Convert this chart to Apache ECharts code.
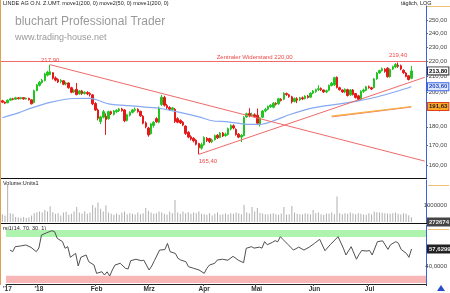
<!DOCTYPE html>
<html>
<head>
<meta charset="utf-8">
<script src="https://cdn.jsdelivr.net/npm/echarts@6/dist/echarts.min.js"></script>
<style>
html, body { margin: 0; padding: 0; background: #fff; }
#chart { width: 450px; height: 293px; }
</style>
</head>
<body>
<div id="chart"></div>
<script>
// trading days (Xetra), last 5 categories stay empty
var holidays = ['2017-12-25', '2017-12-26', '2018-01-01', '2018-03-30', '2018-04-02', '2018-05-01'];
var dates = [];
var d = new Date(Date.UTC(2017, 11, 12));
while (dates.length < 160) {
    var s = d.toISOString().slice(0, 10);
    if (d.getUTCDay() !== 0 && d.getUTCDay() !== 6 && holidays.indexOf(s) < 0) dates.push(s);
    d.setUTCDate(d.getUTCDate() + 1);
}
var monthNames = ['Jan', 'Feb', 'Mrz', 'Apr', 'Mai', 'Jun', 'Jul', 'Aug', 'Sep', 'Okt', 'Nov', 'Dez'];

// [open, close, low, high]
var ohlc = [
    [195.0,194.2,193.6,195.6],[194.2,193.6,193.0,194.6],[193.8,195.4,193.6,195.8],[195.4,196.2,195.0,196.8],
    [196.2,195.9,195.3,196.8],[195.9,196.8,195.6,197.4],[196.8,196.3,195.8,197.2],[196.3,196.9,195.9,197.4],
    [196.9,196.1,195.7,197.2],[196.1,196.5,195.8,197.0],[196.5,195.6,195.2,196.8],[195.6,193.2,192.8,195.8],
    [194.0,201.2,193.5,201.8],[201.2,204.8,200.8,205.4],[204.5,206.5,203.8,207.2],[206.3,207.8,205.5,208.6],
    [207.6,211.8,207.0,212.6],[211.0,213.0,210.3,213.8],[211.5,213.2,211.0,217.9],[212.6,209.0,208.2,213.0],
    [209.2,207.8,207.0,210.2],[208.2,206.6,206.0,209.0],[206.8,207.6,205.8,208.4],[207.4,205.2,204.6,207.9],
    [205.4,206.0,204.5,206.8],[206.0,203.0,202.4,206.4],[203.0,200.2,199.6,203.6],[200.4,201.4,199.8,202.0],
    [202.0,198.8,198.3,206.0],[199.2,201.0,198.8,201.6],[201.0,199.4,198.6,201.6],[199.4,200.2,198.8,200.8],
    [200.0,199.2,198.4,200.8],[199.4,198.8,197.6,200.2],[198.6,193.2,192.4,199.0],[193.4,189.6,189.0,194.2],
    [189.6,184.8,183.6,190.4],[183.0,185.6,181.5,186.2],[185.4,188.6,184.8,189.6],[186.0,184.0,175.6,187.6],
    [184.6,188.6,184.0,189.2],[188.6,187.4,186.6,189.2],[187.0,189.0,186.4,189.6],[188.6,189.4,187.8,190.0],
    [189.2,190.2,188.4,190.8],[190.2,189.2,188.6,190.8],[189.6,183.4,182.6,190.0],[183.6,186.8,183.0,187.4],
    [186.6,188.2,185.8,188.8],[188.2,189.6,187.6,190.2],[189.4,190.0,188.6,191.0],[190.0,188.6,188.0,190.6],
    [188.8,186.2,185.6,189.2],[186.0,182.0,181.4,186.6],[182.2,180.0,179.2,183.0],[179.4,175.6,174.6,180.0],
    [176.2,181.6,175.8,182.2],[180.8,182.6,179.6,183.2],[184.6,182.8,182.2,185.4],[182.6,190.8,182.0,191.6],
    [192.8,197.2,192.0,198.6],[197.0,192.4,191.6,198.0],[192.2,191.0,190.2,193.2],[191.0,190.0,189.2,191.8],
    [189.8,190.8,189.0,191.4],[190.0,183.0,182.2,190.6],[184.6,182.6,182.0,185.4],[183.6,182.2,181.6,184.2],
    [182.6,181.0,180.4,183.2],[180.4,176.4,175.6,180.8],[177.0,174.4,173.8,177.6],[174.6,173.4,172.6,175.4],
    [173.8,172.4,171.6,174.4],[172.8,170.6,170.0,173.2],[171.0,168.8,165.4,171.4],[168.6,170.4,167.8,171.4],
    [170.4,174.2,169.8,174.8],[173.8,172.6,171.8,174.4],[173.6,172.0,171.2,174.0],[172.0,172.8,171.2,173.6],
    [173.0,175.2,172.6,175.8],[175.4,174.0,173.4,176.0],[174.2,176.6,173.8,177.2],[176.6,175.0,174.4,177.2],
    [175.2,176.0,174.6,176.8],[175.8,179.0,175.2,179.6],[178.8,180.8,178.0,181.4],[180.6,179.4,178.6,181.4],
    [178.6,175.8,175.2,179.2],[176.0,174.4,173.8,176.6],[174.4,175.4,171.8,176.0],[175.2,185.2,174.8,186.0],
    [185.6,187.4,185.0,188.0],[187.6,186.2,185.4,190.6],[186.4,186.8,185.6,188.0],[186.8,185.8,185.2,187.6],
    [186.6,182.0,181.4,190.4],[181.2,185.0,180.2,185.4],[185.4,189.0,185.0,189.6],[189.0,189.8,188.2,190.8],
    [190.0,191.6,189.4,192.2],[191.4,192.4,190.8,193.0],[191.2,193.6,190.6,194.2],[193.4,193.0,192.2,194.2],
    [193.2,196.2,192.6,196.8],[196.0,195.2,194.6,196.6],[196.0,199.6,195.4,200.2],[199.4,198.8,198.0,200.0],
    [198.6,197.6,196.8,199.2],[197.4,194.4,193.4,198.0],[194.6,196.4,194.0,197.0],[196.2,195.4,193.6,197.2],
    [195.6,196.8,194.8,197.4],[196.8,196.2,195.4,197.6],[196.4,197.8,195.8,198.4],[197.8,197.0,196.4,198.6],
    [197.2,199.6,196.8,200.2],[199.6,201.0,199.0,201.6],[200.6,201.8,199.8,202.4],[201.8,202.4,201.0,204.6],
    [202.6,201.8,201.0,203.2],[201.6,200.4,199.8,202.0],[200.4,201.2,199.6,201.8],[201.4,204.4,200.8,205.0],
    [204.4,205.8,203.8,206.6],[204.8,209.4,204.2,210.0],[209.6,203.2,202.6,210.2],[203.0,201.8,201.2,203.6],
    [201.6,200.4,199.8,202.0],[200.4,202.0,199.6,202.6],[201.8,198.2,197.6,202.4],[198.6,201.6,198.0,202.2],
    [201.6,198.8,198.2,202.2],[199.4,197.0,196.4,199.8],[198.0,195.8,195.0,198.6],[196.0,200.8,195.6,201.4],
    [200.8,201.6,199.8,202.4],[201.4,203.6,200.8,204.2],[203.6,203.0,202.4,204.4],[203.0,202.2,201.6,203.6],
    [203.0,208.6,202.6,209.2],[208.6,212.4,208.0,213.0],[212.4,214.0,211.8,214.6],[214.0,215.2,213.4,216.0],
    [214.8,213.4,212.6,215.6],[215.6,210.0,209.4,216.2],[210.0,214.8,209.4,215.4],[215.0,216.6,214.4,217.2],
    [216.4,218.0,215.6,219.0],[217.6,216.8,215.8,219.4],[217.2,215.0,214.2,218.0],[214.2,212.6,211.8,214.8],
    [212.4,210.2,209.6,213.0],[210.6,208.2,207.6,211.0],[209.0,213.8,208.4,217.0]
];

// moving averages, [day index, value]
var ma50 = [[0,185.1],[6,187.9],[11,190.8],[18,194.1],[27,196.4],[33,196.5],[40,193.2],[50,191.8],
    [59,190.6],[66,188.5],[74,185.6],[79,183.4],[85,182.8],[92,181.4],[97,181.4],[103,183.9],[108,186.8],
    [117,190.8],[127,193.2],[134,195.0],[141,197.3],[149,201.0],[154,203.6]];
var ma200a = [[124,186.0],[139,188.8],[154,191.63]];
var ma200b = [[124,185.6],[139,188.4],[154,191.3]];

// volume in thousands
var volumeK = [450,380,2200,520,480,300,260,250,300,240,280,380,
    520,580,620,560,700,620,920,580,480,520,380,560,
    600,420,480,620,880,560,500,620,480,560,1000,860,
    1150,780,620,980,560,480,420,500,420,560,620,460,
    520,480,440,560,460,520,820,640,560,480,520,620,
    560,480,440,600,520,1300,560,480,620,520,580,480,
    560,520,620,480,460,420,520,380,480,560,420,460,
    500,440,520,480,560,520,460,1020,560,500,880,620,
    820,540,500,460,440,480,520,460,420,500,880,440,
    460,940,560,480,460,440,520,480,460,700,520,560,
    460,420,500,480,560,460,1500,520,460,520,480,560,
    500,460,520,480,440,420,520,440,600,580,560,540,
    520,500,480,520,560,480,440,520,480,400,273];

var rsi = [[1,56.5],[2,54.8],[3,60],[5,60.7],[7,61.7],[9,59.3],[11,54.8],[12,58.6],[13,72],[15,74.4],
    [16,75.5],[17,76.5],[18,75.5],[19,68.6],[21,65.2],[22,58.3],[23,60],[24,49],[26,53.1],[27,40],
    [28,49],[30,51.4],[31,44.5],[33,41],[34,32.4],[36,34.1],[37,30.7],[38,34],[39,29.7],[40,35.9],
    [41,41],[43,42.8],[45,37.6],[46,37],[47,45.5],[49,47],[51,45.5],[52,46],[54,35.9],[55,40],
    [56,45.5],[58,56.5],[60,57],[61,63.4],[62,54.8],[64,53],[65,48],[66,46.2],[68,44.5],[69,39.3],
    [71,37.6],[73,35.9],[75,32.4],[76,37.6],[77,41],[79,42.8],[80,46.2],[82,47],[84,46],[86,50],
    [88,46],[90,43.4],[91,58.3],[93,60],[94,58.5],[96,59.5],[97,58.5],[98,65.2],[99,62],[101,64.5],
    [102,66.2],[103,65],[104,70.3],[105,67.5],[107,62],[109,56.5],[111,59.5],[113,56.5],[115,59.5],
    [117,63.4],[119,67.6],[121,55.8],[123,62],[126,70.3],[128,58.5],[129,51.4],[131,60],[133,47],
    [134,52],[135,56],[137,55.5],[138,56],[139,51.4],[141,65.2],[143,66],[145,57.2],[146,62],
    [148,65.2],[149,63.5],[150,57.2],[152,53.1],[153,49],[154,57.6]];

var priceTicks = [160, 170, 180, 190, 200, 210, 220, 230, 240, 250];

function fmt2(v) { return v.toFixed(2).replace('.', ','); }
function dateLabel(i) {
    var m = dates[i].slice(5, 7);
    if (i === 0) return "'" + dates[0].slice(2, 4);
    if (m === dates[i - 1].slice(5, 7)) return '';
    if (m === '01') return "'" + dates[i].slice(2, 4);
    return monthNames[+m - 1];
}

var FONT = 'Liberation Sans';
var RED = '#f06a6a';
var NOLINE = { color: 'rgba(0,0,0,0)', width: 0 };

var chart = echarts.init(document.getElementById('chart'));

function hiddenX(idx) {
    return {
        type: 'category', gridIndex: idx, data: dates,
        axisLine: { show: false }, axisTick: { show: false }, axisLabel: { show: false }, splitLine: { show: false }
    };
}
function boxLabel(text, bg, border, color) {
    return {
        show: true, position: 'end', distance: 2, formatter: text,
        fontFamily: FONT, fontSize: 6, fontWeight: 'bold', color: color,
        backgroundColor: bg, borderColor: border, borderWidth: 1, padding: [1, 1, 0, 1]
    };
}

chart.setOption({
    animation: false,
    backgroundColor: '#fff',
    grid: [
        { left: 1, width: 426, top: 6, height: 172 },
        { left: 1, width: 426, top: 180, height: 42 },
        { left: 1, width: 426, top: 225, height: 59 }
    ],
    xAxis: [
        hiddenX(0),
        hiddenX(1),
        {
            type: 'category', gridIndex: 2, data: dates,
            axisLine: { show: true, lineStyle: { color: '#222' } },
            axisTick: { show: true, length: 2, interval: function (i) { return dateLabel(i) !== ''; }, lineStyle: { color: '#444' } },
            axisLabel: {
                interval: function (i) { return dateLabel(i) !== ''; },
                formatter: function (v, i) { return dateLabel(i); },
                fontFamily: FONT, fontSize: 6.5, fontWeight: 'bold', color: '#333', margin: 2
            },
            splitLine: { show: false }
        }
    ],
    yAxis: [
        {
            type: 'log', gridIndex: 0, position: 'right', min: 153.8, max: 261,
            axisLine: { show: true, lineStyle: { color: '#3b63e0' } },
            axisTick: { show: true, length: 2, customValues: priceTicks, lineStyle: { color: '#666' } },
            axisLabel: { customValues: priceTicks, formatter: fmt2, fontFamily: FONT, fontSize: 6, color: '#444', align: 'right', margin: 21 },
            splitLine: { show: false }
        },
        {
            type: 'value', gridIndex: 1, position: 'right', min: 0, max: 2470,
            axisLine: { show: true, lineStyle: { color: '#3b63e0' } },
            axisTick: { show: true, length: 2, customValues: [0, 1000], lineStyle: { color: '#666' } },
            axisLabel: { customValues: [0, 1000], formatter: function (v) { return String(v * 1000); }, fontFamily: FONT, fontSize: 6, color: '#444', align: 'right', margin: 21 },
            splitLine: { show: false }
        },
        {
            type: 'value', gridIndex: 2, position: 'right', min: 21.4, max: 82.4,
            axisLine: { show: true, lineStyle: { color: '#3b63e0' } },
            axisTick: { show: true, length: 2, customValues: [40], lineStyle: { color: '#666' } },
            axisLabel: { customValues: [40], formatter: function (v) { return v.toFixed(4).replace('.', ','); }, fontFamily: FONT, fontSize: 6, color: '#444', align: 'right', margin: 21 },
            splitLine: { show: false }
        }
    ],
    series: [
        {
            type: 'candlestick', xAxisIndex: 0, yAxisIndex: 0, data: ohlc, barWidth: 2,
            itemStyle: { color: '#22c422', color0: '#e41a1a', borderColor: '#22c422', borderColor0: '#e41a1a', borderWidth: 1 },
            markLine: {
                symbol: 'none', silent: true,
                lineStyle: { color: RED, width: 1, type: 'solid' },
                label: { show: false },
                data: [
                    { yAxis: 220 },
                    [{ coord: [18, 217.9] }, { coord: [159, 162] }],
                    [{ coord: [74, 165.4] }, { coord: [159, 209.6] }],
                    { yAxis: 213.8, lineStyle: NOLINE, label: boxLabel('213,80', '#fff', '#333', '#000') }
                ]
            },
            markPoint: {
                symbol: 'circle', symbolSize: 1, silent: true,
                itemStyle: { color: 'rgba(0,0,0,0)' },
                label: { fontFamily: FONT, fontSize: 6, color: '#f04848' },
                data: [
                    { coord: [18, 217.9], label: { formatter: '217,90', position: 'top', distance: 1 } },
                    { coord: [149, 219.4], label: { formatter: '219,40', position: 'top', distance: 4 } },
                    { coord: [74, 165.4], label: { formatter: '165,40', position: 'bottom', distance: 3, offset: [9, 0] } },
                    { coord: [95, 220], label: { formatter: 'Zentraler Widerstand 220,00', position: 'top', distance: 1 } }
                ]
            }
        },
        {
            type: 'line', xAxisIndex: 0, yAxisIndex: 0, data: ma50, symbol: 'none', smooth: 0.3,
            lineStyle: { color: '#86a9f2', width: 1.2 },
            markLine: {
                symbol: 'none', silent: true, lineStyle: NOLINE,
                data: [{ yAxis: 203.6, label: boxLabel('203,60', '#dfe8ff', '#3b63e0', '#2448c0') }]
            }
        },
        {
            type: 'line', xAxisIndex: 0, yAxisIndex: 0, data: ma200b, symbol: 'none',
            lineStyle: { color: '#f08070', width: 1 }
        },
        {
            type: 'line', xAxisIndex: 0, yAxisIndex: 0, data: ma200a, symbol: 'none',
            lineStyle: { color: '#f7b040', width: 1.2 },
            markLine: {
                symbol: 'none', silent: true, lineStyle: NOLINE,
                data: [{ yAxis: 191.63, label: boxLabel('191,63', '#ffa628', '#e04020', '#222') }]
            }
        },
        {
            type: 'bar', xAxisIndex: 1, yAxisIndex: 1, data: volumeK, barWidth: 1,
            itemStyle: { color: '#b0b0b0' },
            markLine: {
                symbol: 'none', silent: true, lineStyle: NOLINE,
                data: [{ yAxis: 0, label: boxLabel('272674', '#444', '#444', '#eee') }]
            }
        },
        {
            type: 'line', xAxisIndex: 2, yAxisIndex: 2, data: rsi, symbol: 'none', z: 3,
            lineStyle: { color: '#505050', width: 1 },
            markArea: {
                silent: true,
                data: [
                    [{ yAxis: 70, itemStyle: { color: '#aef3ae' } }, { yAxis: 77.2 }],
                    [{ yAxis: 22.5, itemStyle: { color: '#f9b6b6' } }, { yAxis: 30 }]
                ]
            },
            markLine: {
                symbol: 'none', silent: true, lineStyle: NOLINE,
                data: [{ yAxis: 57.63, label: boxLabel('57,6299', '#222', '#222', '#eee') }]
            }
        }
    ],
    graphic: [
        { type: 'text', left: 3, top: 0, style: { text: 'LINDE AG O.N. Z.UMT. move1(200, 0) move2(50, 0) move1(200, 0)', font: '5.5px "Liberation Sans"', fill: '#222' } },
        { type: 'text', left: 401, top: 0, style: { text: 'täglich, LOG', font: '5.5px "Liberation Sans"', fill: '#222' } },
        { type: 'text', left: 15, top: 16, style: { text: 'bluchart Professional Trader', font: '12px "Liberation Sans"', fill: '#9a9a9a' } },
        { type: 'text', left: 15, top: 33, style: { text: 'www.trading-house.net', font: '9px "Liberation Sans"', fill: '#9a9a9a' } },
        { type: 'text', left: 3, top: 180, style: { text: 'Volume:Units1', font: '5.5px "Liberation Sans"', fill: '#222' } },
        { type: 'text', left: 3, top: 225, style: { text: 'rsi1(14, 70, 30, 1)', font: '5.5px "Liberation Sans"', fill: '#222' } },
        { type: 'line', shape: { x1: 0, y1: 178.5, x2: 427, y2: 178.5 }, style: { stroke: '#111', lineWidth: 1 } },
        { type: 'line', shape: { x1: 0, y1: 223.5, x2: 427, y2: 223.5 }, style: { stroke: '#111', lineWidth: 1 } },
        { type: 'line', shape: { x1: 0.5, y1: 0, x2: 0.5, y2: 285 }, style: { stroke: '#e0a050', lineWidth: 1 } },
        { type: 'line', shape: { x1: 427, y1: 6.5, x2: 450, y2: 6.5 }, style: { stroke: '#f0c070', lineWidth: 1 } },
        { type: 'line', shape: { x1: 428, y1: 185.5, x2: 449, y2: 185.5 }, style: { stroke: '#f0c070', lineWidth: 1 } },
        { type: 'line', shape: { x1: 428, y1: 229.5, x2: 449, y2: 229.5 }, style: { stroke: '#f0c070', lineWidth: 1 } },
        { type: 'polygon', shape: { points: [[437, 291], [441, 285], [445, 291]] }, style: { fill: '#2a4cc8' } }
    ]
});
</script>
</body>
</html>
